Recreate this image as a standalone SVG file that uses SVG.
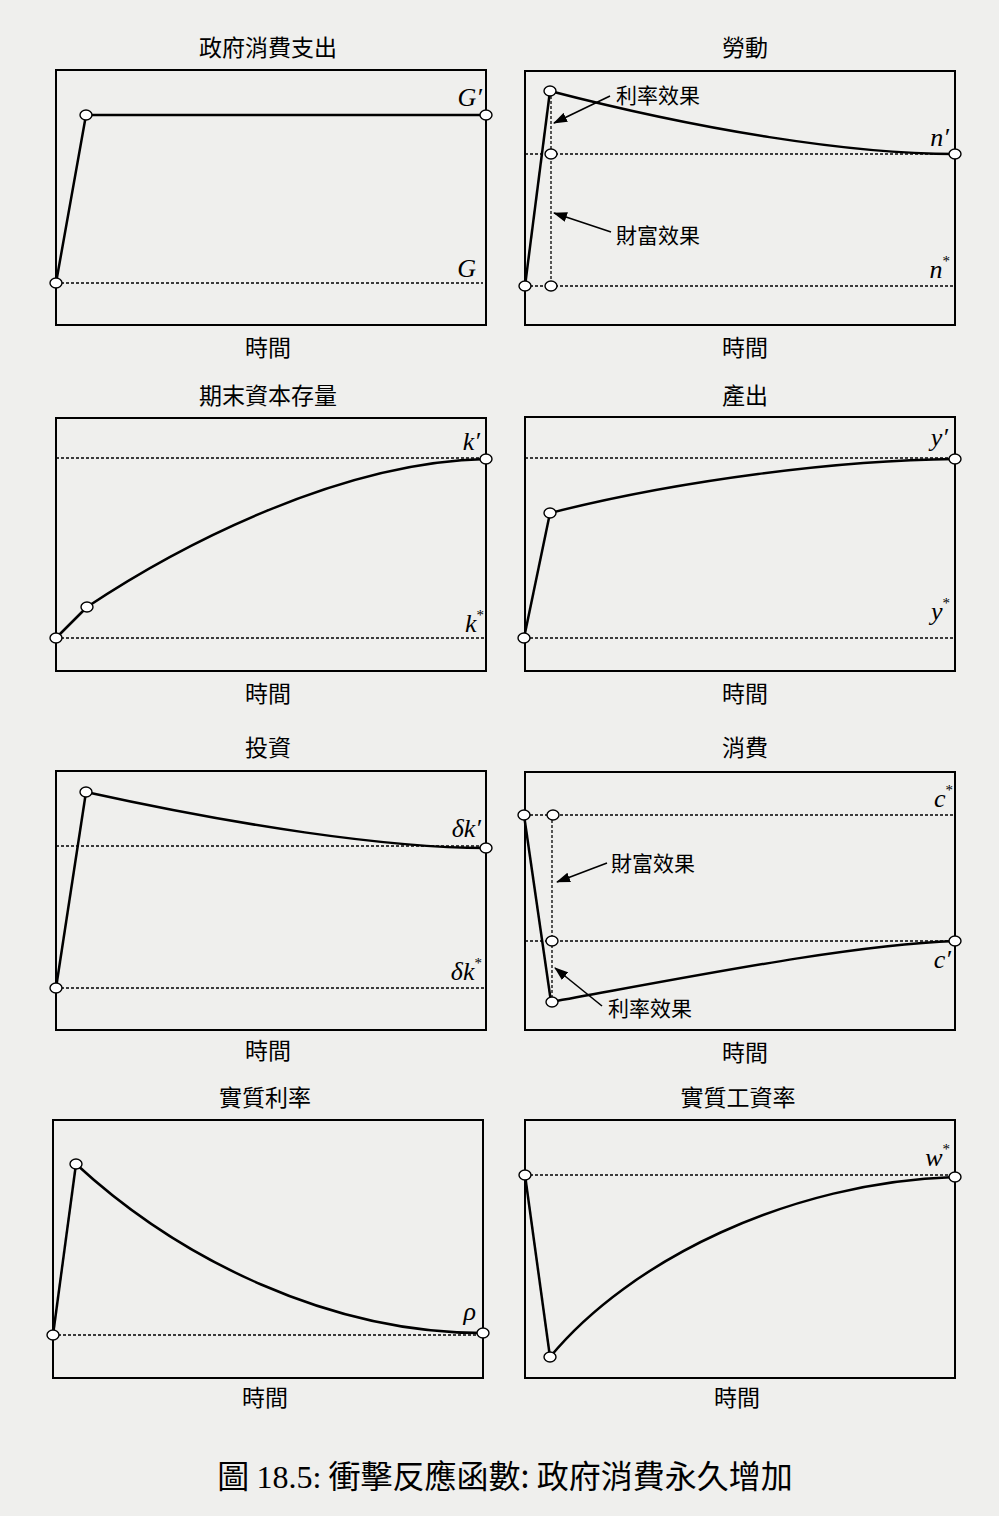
<svg xmlns="http://www.w3.org/2000/svg" width="999" height="1516" viewBox="0 0 999 1516">
<defs>
<marker id="ah" viewBox="0 0 14 10" refX="13" refY="5" markerWidth="14" markerHeight="10" markerUnits="userSpaceOnUse" orient="auto">
<path d="M0,0 L14,5 L0,10 Z" fill="#000"/>
</marker>
</defs>
<style>
.frame{fill:none;stroke:#000;stroke-width:2}
.curve{fill:none;stroke:#000;stroke-width:2.5}
.dash{fill:none;stroke:#000;stroke-width:1.3;stroke-dasharray:3 2}
.pt{fill:#fff;stroke:#000;stroke-width:1.4}
.arr{fill:none;stroke:#000;stroke-width:1.6}
.title{font-family:"Noto Sans CJK TC","Noto Sans CJK SC",sans-serif;font-size:23px;text-anchor:middle;fill:#000}
.note{font-family:"Noto Sans CJK TC","Noto Sans CJK SC",sans-serif;font-size:21px;fill:#000}
.math{font-family:"Liberation Serif",serif;font-style:italic;font-size:26px;text-anchor:end;fill:#000}
.sup{font-size:15px;font-style:normal}
.cap{font-family:"Noto Sans CJK TC","Noto Sans CJK SC",sans-serif;font-size:32px;text-anchor:middle;fill:#000}
</style>
<rect width="999" height="1516" fill="#efefed"/>

<g id="panel-gov">
<text class="title" x="268" y="56">政府消費支出</text>
<rect class="frame" x="56" y="70" width="430" height="255"/>
<line class="dash" x1="56" y1="283" x2="483" y2="283"/>
<polyline class="curve" points="56,283 86,115 486,115"/>
<ellipse class="pt" cx="56" cy="283" rx="6" ry="5"/>
<ellipse class="pt" cx="86" cy="115" rx="6" ry="5"/>
<ellipse class="pt" cx="486" cy="115" rx="6" ry="5"/>
<text class="math" x="482" y="106">G′</text>
<text class="math" x="476" y="277">G</text>
<text class="title" x="268" y="356">時間</text>
</g>

<g id="panel-labor">
<text class="title" x="745" y="56">勞動</text>
<rect class="frame" x="525" y="71" width="430" height="254"/>
<line class="dash" x1="525" y1="154" x2="955" y2="154"/>
<line class="dash" x1="525" y1="286" x2="955" y2="286"/>
<line class="dash" x1="551" y1="91" x2="551" y2="286"/>
<polyline class="curve" points="525,286 550,91"/>
<path class="curve" d="M550,91 C700,130 850,154 955,154"/>
<ellipse class="pt" cx="550" cy="91" rx="6" ry="5"/>
<ellipse class="pt" cx="551" cy="154" rx="6" ry="5"/>
<ellipse class="pt" cx="525" cy="286" rx="6" ry="5"/>
<ellipse class="pt" cx="551" cy="286" rx="6" ry="5"/>
<ellipse class="pt" cx="955" cy="154" rx="6" ry="5"/>
<text class="note" x="616" y="103">利率效果</text>
<text class="note" x="616" y="243">財富效果</text>
<text class="math" x="949" y="146">n′</text>
<text class="math" x="950" y="278">n<tspan class="sup" dy="-12">*</tspan></text>
<text class="title" x="745" y="356">時間</text>
</g>

<g id="panel-capital">
<text class="title" x="268" y="404">期末資本存量</text>
<rect class="frame" x="56" y="418" width="430" height="253"/>
<line class="dash" x1="56" y1="458" x2="486" y2="458"/>
<line class="dash" x1="56" y1="638" x2="486" y2="638"/>
<polyline class="curve" points="56,638 87,607"/>
<path class="curve" d="M87,607 C180,545 340,462 486,459"/>
<ellipse class="pt" cx="56" cy="638" rx="6" ry="5"/>
<ellipse class="pt" cx="87" cy="607" rx="6" ry="5"/>
<ellipse class="pt" cx="486" cy="459" rx="6" ry="5"/>
<text class="math" x="480" y="450">k′</text>
<text class="math" x="484" y="632">k<tspan class="sup" dy="-12">*</tspan></text>
<text class="title" x="268" y="702">時間</text>
</g>

<g id="panel-output">
<text class="title" x="745" y="404">產出</text>
<rect class="frame" x="525" y="417" width="430" height="254"/>
<line class="dash" x1="525" y1="458" x2="955" y2="458"/>
<line class="dash" x1="525" y1="638" x2="955" y2="638"/>
<polyline class="curve" points="524,638 550,513"/>
<path class="curve" d="M550,513 C680,480 840,460 955,459"/>
<ellipse class="pt" cx="524" cy="638" rx="6" ry="5"/>
<ellipse class="pt" cx="550" cy="513" rx="6" ry="5"/>
<ellipse class="pt" cx="955" cy="459" rx="6" ry="5"/>
<text class="math" x="948" y="446">y′</text>
<text class="math" x="950" y="620">y<tspan class="sup" dy="-12">*</tspan></text>
<text class="title" x="745" y="702">時間</text>
</g>

<g id="panel-invest">
<text class="title" x="268" y="756">投資</text>
<rect class="frame" x="56" y="771" width="430" height="259"/>
<line class="dash" x1="56" y1="846" x2="486" y2="846"/>
<line class="dash" x1="56" y1="988" x2="486" y2="988"/>
<polyline class="curve" points="56,988 86,792"/>
<path class="curve" d="M86,792 C236,825 386,848 486,848"/>
<ellipse class="pt" cx="56" cy="988" rx="6" ry="5"/>
<ellipse class="pt" cx="86" cy="792" rx="6" ry="5"/>
<ellipse class="pt" cx="486" cy="848" rx="6" ry="5"/>
<text class="math" x="481" y="837">δk′</text>
<text class="math" x="482" y="980">δk<tspan class="sup" dy="-12">*</tspan></text>
<text class="title" x="268" y="1059">時間</text>
</g>

<g id="panel-consumption">
<text class="title" x="745" y="756">消費</text>
<rect class="frame" x="525" y="772" width="430" height="258"/>
<line class="dash" x1="525" y1="815" x2="955" y2="815"/>
<line class="dash" x1="525" y1="941" x2="955" y2="941"/>
<line class="dash" x1="552" y1="815" x2="552" y2="1002"/>
<polyline class="curve" points="524,815 551,1002"/>
<path class="curve" d="M551,1002 C700,975 850,945 955,941"/>
<ellipse class="pt" cx="524" cy="815" rx="6" ry="5"/>
<ellipse class="pt" cx="553" cy="815" rx="6" ry="5"/>
<ellipse class="pt" cx="552" cy="941" rx="6" ry="5"/>
<ellipse class="pt" cx="552" cy="1002" rx="6" ry="5"/>
<ellipse class="pt" cx="955" cy="941" rx="6" ry="5"/>
<text class="note" x="611" y="871">財富效果</text>
<text class="note" x="608" y="1016">利率效果</text>
<text class="math" x="953" y="807">c<tspan class="sup" dy="-12">*</tspan></text>
<text class="math" x="951" y="968">c′</text>
<text class="title" x="745" y="1061">時間</text>
</g>

<g id="panel-rate">
<text class="title" x="265" y="1106">實質利率</text>
<rect class="frame" x="53" y="1120" width="430" height="258"/>
<line class="dash" x1="53" y1="1335" x2="483" y2="1335"/>
<polyline class="curve" points="53,1335 76,1164"/>
<path class="curve" d="M76,1164 C180,1260 330,1333 483,1333"/>
<ellipse class="pt" cx="53" cy="1335" rx="6" ry="5"/>
<ellipse class="pt" cx="76" cy="1164" rx="6" ry="5"/>
<ellipse class="pt" cx="483" cy="1333" rx="6" ry="5"/>
<text class="math" x="476" y="1320">ρ</text>
<text class="title" x="265" y="1406">時間</text>
</g>

<g id="panel-wage">
<text class="title" x="738" y="1106">實質工資率</text>
<rect class="frame" x="525" y="1120" width="430" height="258"/>
<line class="dash" x1="525" y1="1175" x2="955" y2="1175"/>
<polyline class="curve" points="525,1175 550,1357"/>
<path class="curve" d="M550,1357 C630,1260 790,1182 955,1177"/>
<ellipse class="pt" cx="525" cy="1175" rx="6" ry="5"/>
<ellipse class="pt" cx="550" cy="1357" rx="6" ry="5"/>
<ellipse class="pt" cx="955" cy="1177" rx="6" ry="5"/>
<text class="math" x="950" y="1166">w<tspan class="sup" dy="-12">*</tspan></text>
<text class="title" x="737" y="1406">時間</text>
</g>

<g id="connectors">
<line class="arr" x1="610" y1="96" x2="554" y2="123" marker-end="url(#ah)"/>
<line class="arr" x1="611" y1="232" x2="554" y2="213" marker-end="url(#ah)"/>
<line class="arr" x1="607" y1="863" x2="557" y2="882" marker-end="url(#ah)"/>
<line class="arr" x1="602" y1="1006" x2="555" y2="968" marker-end="url(#ah)"/>
</g>

<text class="cap" x="505" y="1488">圖 <tspan font-family="Liberation Serif, serif">18.5:</tspan> 衝擊反應函數: 政府消費永久增加</text>
</svg>
